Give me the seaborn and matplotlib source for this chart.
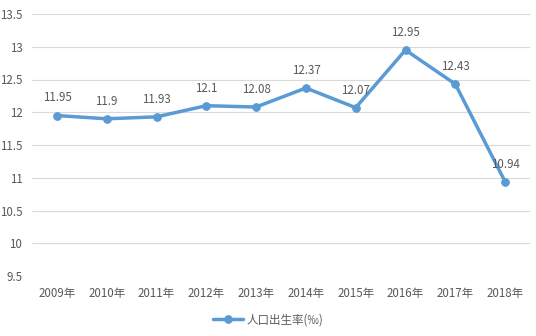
import matplotlib
matplotlib.use("Agg")
import matplotlib.pyplot as plt
import seaborn as sns
import pandas as pd

years = ["2009年", "2010年", "2011年", "2012年", "2013年", "2014年", "2015年", "2016年", "2017年", "2018年"]
birth_rate = [11.95, 11.9, 11.93, 12.1, 12.08, 12.37, 12.07, 12.95, 12.43, 10.94]
y_ticks = [9.5, 10, 10.5, 11, 11.5, 12, 12.5, 13, 13.5]
series_name = "人口出生率(‰)"

sns.set_theme(style="white")
plt.rcParams["font.family"] = ["Noto Sans CJK SC", "DejaVu Sans"]

df = pd.DataFrame({"year": years, "rate": birth_rate})
df["pos"] = range(len(years))

blue = "#5B9BD5"
text_c = "#595959"
grid_c = "#D9D9D9"

fig = plt.figure(figsize=(5.36, 3.36), dpi=100)
ax = fig.add_axes([32 / 536, 1 - 276 / 336, 498 / 536, 262 / 336])

sns.lineplot(data=df, x="pos", y="rate", ax=ax, color=blue, linewidth=2.5,
             marker="o", markersize=5.5, markeredgecolor=blue, label=series_name)

for x, v in zip(df["pos"], df["rate"]):
    ax.annotate(f"{v:g}", (x, v), xytext=(0, 8), textcoords="offset points",
                ha="center", va="bottom", fontsize=8.3, color=text_c)

ax.set_xlim(-0.5, len(years) - 0.5)
ax.set_ylim(9.5, 13.5)
ax.set_yticks(y_ticks)
ax.set_yticklabels([f"{t:g}" for t in y_ticks])
ax.set_xticks(df["pos"])
ax.set_xticklabels(years)
ax.tick_params(axis="both", labelsize=8.3, colors=text_c, length=0)
ax.tick_params(axis="x", pad=8)
ax.tick_params(axis="y", pad=7)
ax.set_xlabel("")
ax.set_ylabel("")
for t in y_ticks:
    ax.axhline(t, color=grid_c, linewidth=0.8, zorder=0)
for s in ["top", "right", "left", "bottom"]:
    ax.spines[s].set_visible(False)

# legend centred under the whole figure
ax.get_legend().remove()
handles, labels = ax.get_legend_handles_labels()
leg = fig.legend(handles, labels, loc="center", bbox_to_anchor=(0.5, 1 - 320 / 336),
                 frameon=False, fontsize=8.3, handlelength=2.6, handletextpad=0.3)
for t in leg.get_texts():
    t.set_color(text_c)

fig.savefig("out.png", dpi=100)
